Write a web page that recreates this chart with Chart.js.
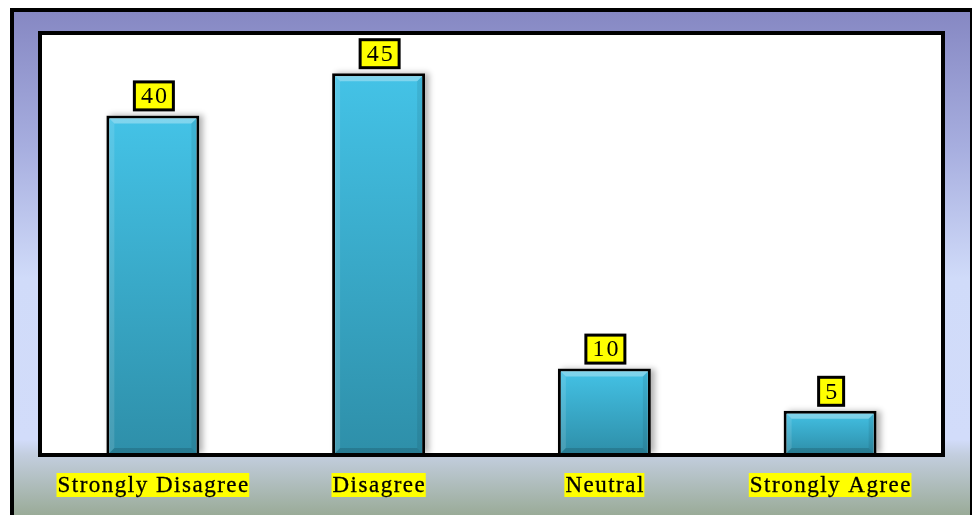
<!DOCTYPE html>
<html>
<head>
<meta charset="utf-8">
<script src="https://cdn.jsdelivr.net/npm/chart.js@4/dist/chart.umd.min.js"></script>
<style>
  html, body { margin: 0; padding: 0; background: #ffffff; }
  #wrap { width: 972px; height: 515px; position: relative; }
</style>
</head>
<body>
<div id="wrap"><canvas id="chart" width="972" height="515"></canvas></div>
<script>
// Survey responses (percent of respondents)
const categories = ['Strongly Disagree', 'Disagree', 'Neutral', 'Strongly Agree'];
const responses = [40, 45, 10, 5];
const axisMax = 50;

const SERIF = '"Liberation Serif", "Times New Roman", serif';

// Framed backdrop: outer gradient panel plus white plot area with a heavy border
const framePlugin = {
  id: 'frame',
  beforeDraw(chart) {
    const ctx = chart.ctx;
    const W = chart.width, H = chart.height;
    ctx.save();
    ctx.fillStyle = '#ffffff';
    ctx.fillRect(0, 0, W, H);

    // outer black frame
    ctx.fillStyle = '#000000';
    ctx.fillRect(10, 8, W - 10, H - 8);

    // gradient panel
    const g = ctx.createLinearGradient(0, 12, 0, H);
    g.addColorStop(0, '#8688c3');
    g.addColorStop(0.27, '#a7aedf');
    g.addColorStop(0.53, '#d0dbf9');
    g.addColorStop(0.85, '#d2dcfa');
    g.addColorStop(0.88, '#c3cedf');
    g.addColorStop(1, '#9aab98');
    ctx.fillStyle = g;
    ctx.fillRect(14, 12, W - 16, H - 12);

    // plot area
    const a = chart.chartArea;
    ctx.fillStyle = '#ffffff';
    ctx.fillRect(a.left, a.top, a.right - a.left, a.bottom - a.top);
    ctx.restore();
  },
  beforeDatasetsDraw(chart) {
    // soft drop shadow behind each bar
    const ctx = chart.ctx;
    const meta = chart.getDatasetMeta(0);
    ctx.save();
    ctx.shadowColor = 'rgba(0,0,0,0.3)';
    ctx.shadowBlur = 6;
    ctx.shadowOffsetX = 4;
    ctx.shadowOffsetY = 0;
    ctx.fillStyle = '#ffffff';
    meta.data.forEach(bar => {
      const p = bar.getProps(['x', 'y', 'base', 'width'], true);
      ctx.fillRect(p.x - p.width / 2, p.y, p.width, p.base - p.y);
    });
    ctx.restore();
  },
  afterDatasetsDraw(chart) {
    const ctx = chart.ctx;
    const meta = chart.getDatasetMeta(0);
    const values = chart.data.datasets[0].data;
    ctx.save();

    meta.data.forEach((bar, i) => {
      const p = bar.getProps(['x', 'y', 'base', 'width'], true);
      const b = 3;
      const l = p.x - p.width / 2 + b, r = p.x + p.width / 2 - b;
      const t = p.y + b, bt = p.base;
      const e = 5;
      // bevel: light top edge, soft sides, darker bottom
      ctx.fillStyle = 'rgba(255,255,255,0.32)';
      ctx.beginPath();
      ctx.moveTo(l, t); ctx.lineTo(r, t); ctx.lineTo(r - e, t + e); ctx.lineTo(l + e, t + e);
      ctx.closePath(); ctx.fill();
      ctx.fillStyle = 'rgba(255,255,255,0.12)';
      ctx.beginPath();
      ctx.moveTo(l, t); ctx.lineTo(l + e, t + e); ctx.lineTo(l + e, bt - e); ctx.lineTo(l, bt);
      ctx.closePath(); ctx.fill();
      ctx.fillStyle = 'rgba(0,0,0,0.08)';
      ctx.beginPath();
      ctx.moveTo(r, t); ctx.lineTo(r - e, t + e); ctx.lineTo(r - e, bt - e); ctx.lineTo(r, bt);
      ctx.closePath(); ctx.fill();
      ctx.fillStyle = 'rgba(0,0,0,0.14)';
      ctx.beginPath();
      ctx.moveTo(l, bt); ctx.lineTo(r, bt); ctx.lineTo(r - e, bt - e); ctx.lineTo(l + e, bt - e);
      ctx.closePath(); ctx.fill();

      // value label in a yellow box
      const txt = String(values[i]);
      ctx.font = '24px ' + SERIF;
      ctx.letterSpacing = '2px';
      const tw = ctx.measureText(txt).width - 2;
      const bw = tw + 13, bh = 28;
      const bx = p.x + 1 - bw / 2, by = p.y - 5.5 - bh;
      ctx.fillStyle = '#ffff00';
      ctx.fillRect(bx, by, bw, bh);
      ctx.lineWidth = 3;
      ctx.strokeStyle = '#000000';
      ctx.strokeRect(bx, by, bw, bh);
      ctx.fillStyle = '#000000';
      ctx.textAlign = 'left';
      ctx.textBaseline = 'middle';
      ctx.fillText(txt, p.x + 1 - tw / 2, by + bh / 2 + 1);
    });

    // plot area border
    const a = chart.chartArea;
    ctx.letterSpacing = '0px';
    ctx.lineWidth = 4;
    ctx.strokeStyle = '#000000';
    ctx.strokeRect(a.left, a.top + 2, a.right - a.left, a.bottom - a.top);
    ctx.restore();
  },
  afterDraw(chart) {
    // category labels with highlighted backgrounds
    const ctx = chart.ctx;
    const xs = chart.scales.x;
    ctx.save();
    ctx.font = '23px ' + SERIF;
    ctx.letterSpacing = '1.5px';
    ctx.textBaseline = 'middle';
    ctx.textAlign = 'left';
    ctx.lineWidth = 0.3;
    ctx.strokeStyle = '#000000';
    chart.data.labels.forEach((lab, i) => {
      const cx = xs.getPixelForValue(i);
      const tw = ctx.measureText(lab).width - 1.5;
      const x0 = cx - tw / 2;
      ctx.fillStyle = '#ffff00';
      ctx.fillRect(x0 - 1, 473, tw + 2, 24);
      ctx.fillStyle = '#000000';
      ctx.fillText(lab, x0, 486);
      ctx.strokeText(lab, x0, 486);
    });
    ctx.restore();
  }
};

const ctx = document.getElementById('chart').getContext('2d');
new Chart(ctx, {
  type: 'bar',
  data: {
    labels: categories,
    datasets: [{
      data: responses,
      // each bar shades from light cyan at its top to teal at its base
      backgroundColor(c) {
        const ys = c.chart.scales.y;
        if (!ys || c.raw === undefined) return '#3aaccc';
        const top = ys.getPixelForValue(c.raw);
        const base = ys.getPixelForValue(0);
        if (!isFinite(top) || !isFinite(base) || top === base) return '#3aaccc';
        const g = c.chart.ctx.createLinearGradient(0, top, 0, base);
        g.addColorStop(0, '#44c3e7');
        g.addColorStop(1, '#2e8fa9');
        return g;
      },
      borderColor: '#000000',
      borderWidth: 3,
      barPercentage: 0.412,
      categoryPercentage: 1.0
    }]
  },
  options: {
    responsive: false,
    animation: false,
    devicePixelRatio: 1,
    layout: { padding: { left: 40, right: 29, top: 31, bottom: 62 } },
    plugins: { legend: { display: false }, tooltip: { enabled: false } },
    scales: {
      x: { display: false },
      y: { display: false, min: 0, max: axisMax }
    }
  },
  plugins: [framePlugin]
});
</script>
</body>
</html>
